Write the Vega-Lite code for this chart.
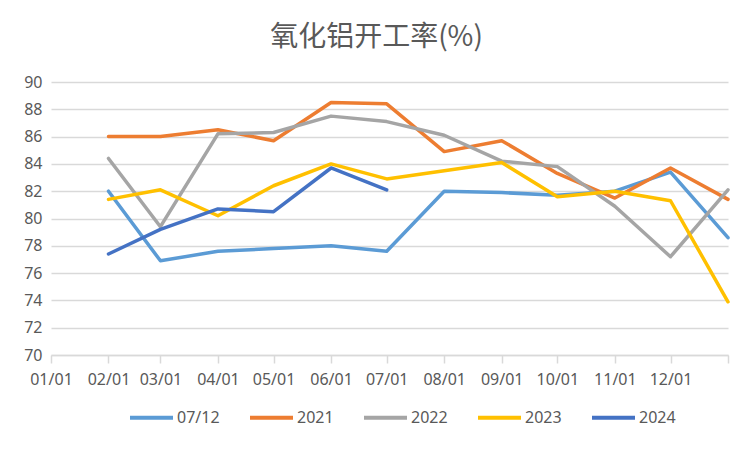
{
  "$schema": "https://vega.github.io/schema/vega-lite/v6.json",
  "autosize": "none",
  "width": 677,
  "height": 273,
  "padding": {"left": 51, "top": 82, "right": 24, "bottom": 97},
  "background": "white",
  "title": {
    "text": "氧化铝开工率(%)",
    "font": "Noto Sans CJK SC",
    "fontSize": 28,
    "fontWeight": "normal",
    "color": "#595959",
    "anchor": "middle",
    "dx": -13,
    "offset": 22
  },
  "data": {
    "values": [
      {"date": "2001-02-01", "series": "07/12", "value": 82.0},
      {"date": "2001-03-01", "series": "07/12", "value": 76.9},
      {"date": "2001-04-01", "series": "07/12", "value": 77.6},
      {"date": "2001-05-01", "series": "07/12", "value": 77.8},
      {"date": "2001-06-01", "series": "07/12", "value": 78.0},
      {"date": "2001-07-01", "series": "07/12", "value": 77.6},
      {"date": "2001-08-01", "series": "07/12", "value": 82.0},
      {"date": "2001-09-01", "series": "07/12", "value": 81.9},
      {"date": "2001-10-01", "series": "07/12", "value": 81.7},
      {"date": "2001-11-01", "series": "07/12", "value": 82.0},
      {"date": "2001-12-01", "series": "07/12", "value": 83.4},
      {"date": "2002-01-01", "series": "07/12", "value": 78.6},
      {"date": "2001-02-01", "series": "2021", "value": 86.0},
      {"date": "2001-03-01", "series": "2021", "value": 86.0},
      {"date": "2001-04-01", "series": "2021", "value": 86.5},
      {"date": "2001-05-01", "series": "2021", "value": 85.7},
      {"date": "2001-06-01", "series": "2021", "value": 88.5},
      {"date": "2001-07-01", "series": "2021", "value": 88.4},
      {"date": "2001-08-01", "series": "2021", "value": 84.9},
      {"date": "2001-09-01", "series": "2021", "value": 85.7},
      {"date": "2001-10-01", "series": "2021", "value": 83.3},
      {"date": "2001-11-01", "series": "2021", "value": 81.5},
      {"date": "2001-12-01", "series": "2021", "value": 83.7},
      {"date": "2002-01-01", "series": "2021", "value": 81.4},
      {"date": "2001-02-01", "series": "2022", "value": 84.4},
      {"date": "2001-03-01", "series": "2022", "value": 79.4},
      {"date": "2001-04-01", "series": "2022", "value": 86.2},
      {"date": "2001-05-01", "series": "2022", "value": 86.3},
      {"date": "2001-06-01", "series": "2022", "value": 87.5},
      {"date": "2001-07-01", "series": "2022", "value": 87.1},
      {"date": "2001-08-01", "series": "2022", "value": 86.1},
      {"date": "2001-09-01", "series": "2022", "value": 84.2},
      {"date": "2001-10-01", "series": "2022", "value": 83.8},
      {"date": "2001-11-01", "series": "2022", "value": 80.9},
      {"date": "2001-12-01", "series": "2022", "value": 77.2},
      {"date": "2002-01-01", "series": "2022", "value": 82.1},
      {"date": "2001-02-01", "series": "2023", "value": 81.4},
      {"date": "2001-03-01", "series": "2023", "value": 82.1},
      {"date": "2001-04-01", "series": "2023", "value": 80.2},
      {"date": "2001-05-01", "series": "2023", "value": 82.4},
      {"date": "2001-06-01", "series": "2023", "value": 84.0},
      {"date": "2001-07-01", "series": "2023", "value": 82.9},
      {"date": "2001-08-01", "series": "2023", "value": 83.5},
      {"date": "2001-09-01", "series": "2023", "value": 84.1},
      {"date": "2001-10-01", "series": "2023", "value": 81.6},
      {"date": "2001-11-01", "series": "2023", "value": 82.0},
      {"date": "2001-12-01", "series": "2023", "value": 81.3},
      {"date": "2002-01-01", "series": "2023", "value": 73.9},
      {"date": "2001-02-01", "series": "2024", "value": 77.4},
      {"date": "2001-03-01", "series": "2024", "value": 79.2},
      {"date": "2001-04-01", "series": "2024", "value": 80.7},
      {"date": "2001-05-01", "series": "2024", "value": 80.5},
      {"date": "2001-06-01", "series": "2024", "value": 83.7},
      {"date": "2001-07-01", "series": "2024", "value": 82.1}
    ]
  },
  "mark": {"type": "line", "strokeWidth": 3.5, "strokeJoin": "round", "strokeCap": "round", "clip": false},
  "encoding": {
    "x": {
      "field": "date",
      "type": "temporal",
      "scale": {"type": "utc", "domain": [{"year": 2001, "month": 1, "date": 1, "utc": true}, {"year": 2002, "month": 1, "date": 1, "utc": true}]},
      "axis": {
        "title": null,
        "values": [
          {"year": 2001, "month": 1, "date": 1, "utc": true},
          {"year": 2001, "month": 2, "date": 1, "utc": true},
          {"year": 2001, "month": 3, "date": 1, "utc": true},
          {"year": 2001, "month": 4, "date": 1, "utc": true},
          {"year": 2001, "month": 5, "date": 1, "utc": true},
          {"year": 2001, "month": 6, "date": 1, "utc": true},
          {"year": 2001, "month": 7, "date": 1, "utc": true},
          {"year": 2001, "month": 8, "date": 1, "utc": true},
          {"year": 2001, "month": 9, "date": 1, "utc": true},
          {"year": 2001, "month": 10, "date": 1, "utc": true},
          {"year": 2001, "month": 11, "date": 1, "utc": true},
          {"year": 2001, "month": 12, "date": 1, "utc": true},
          {"year": 2002, "month": 1, "date": 1, "utc": true}
        ],
        "labelExpr": "utcyear(datum.value) > 2001 ? '' : utcFormat(datum.value, '%m/%d')",
        "grid": false,
        "domainColor": "#D9D9D9",
        "domainWidth": 1.5,
        "tickColor": "#D9D9D9",
        "tickWidth": 1.5,
        "tickSize": 8,
        "labelPadding": 8,
        "labelFont": "Noto Sans",
        "labelFontSize": 16,
        "labelColor": "#595959",
        "labelOverlap": false,
        "labelFlush": false
      }
    },
    "y": {
      "field": "value",
      "type": "quantitative",
      "scale": {"domain": [70, 90], "zero": false, "nice": false},
      "axis": {
        "title": null,
        "values": [70, 72, 74, 76, 78, 80, 82, 84, 86, 88, 90],
        "domain": false,
        "ticks": false,
        "gridColor": "#D9D9D9",
        "gridWidth": 1.5,
        "labelPadding": 9,
        "labelFont": "Noto Sans",
        "labelFontSize": 16,
        "labelColor": "#595959"
      }
    },
    "color": {
      "field": "series",
      "type": "nominal",
      "scale": {"domain": ["07/12", "2021", "2022", "2023", "2024"], "range": ["#5B9BD5", "#ED7D31", "#A5A5A5", "#FFC000", "#4472C4"]},
      "legend": {
        "title": null,
        "orient": "none",
        "direction": "horizontal",
        "legendX": 77,
        "legendY": 312,
        "symbolType": "stroke",
        "symbolSize": 1849,
        "symbolStrokeWidth": 4,
        "labelFont": "Noto Sans",
        "labelFontSize": 16,
        "labelColor": "#595959",
        "labelOffset": 2,
        "columnPadding": 22
      }
    }
  },
  "config": {
    "view": {"stroke": null}
  }
}
